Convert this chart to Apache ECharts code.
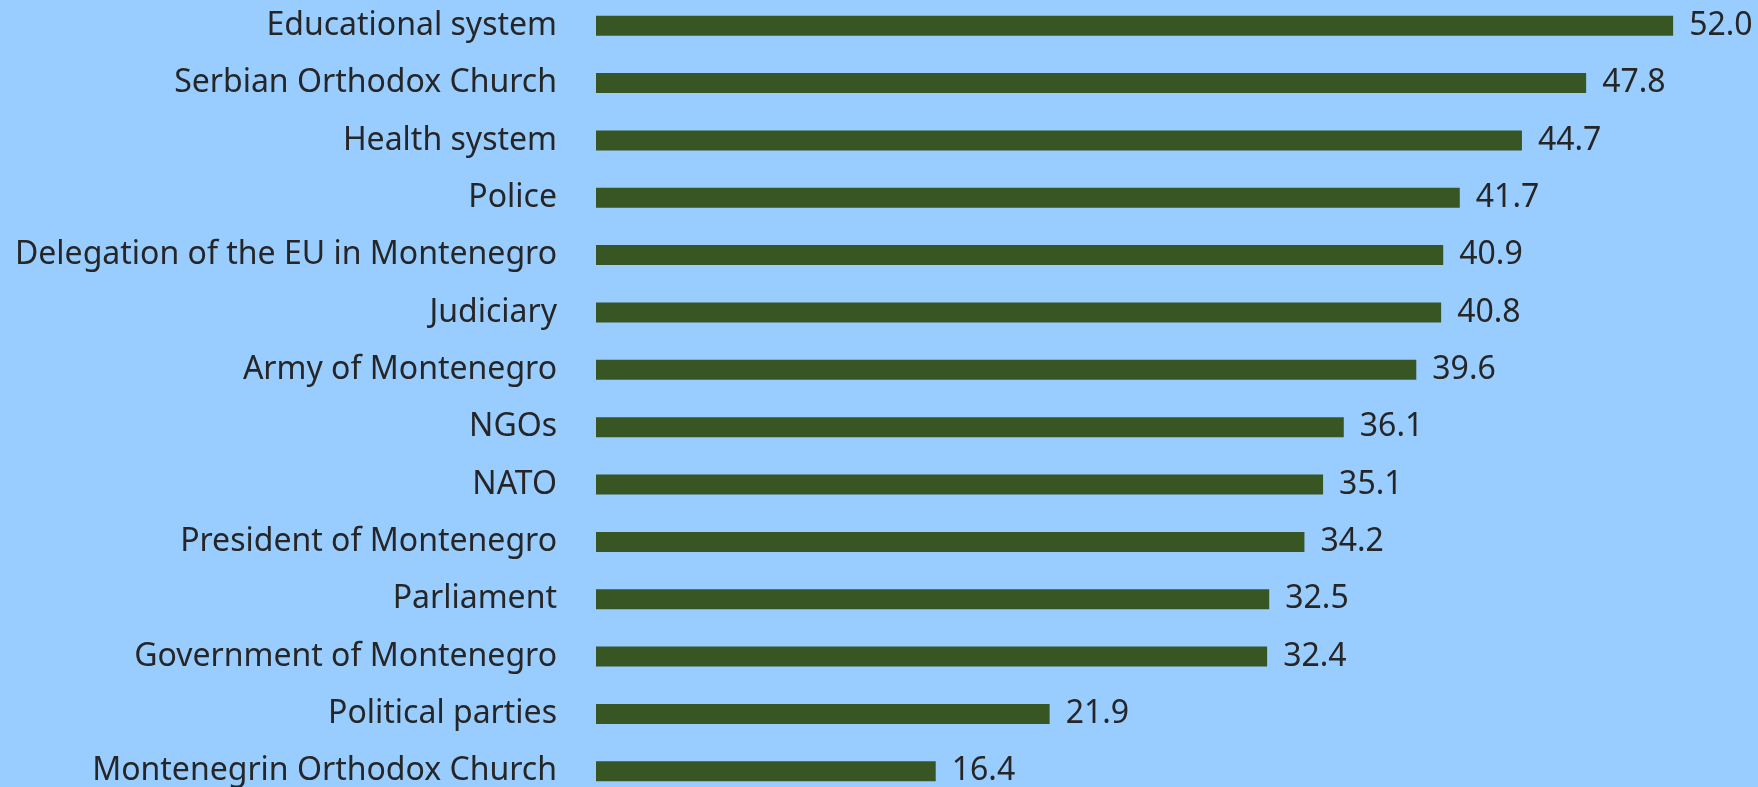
<!DOCTYPE html>
<html>
<head>
    <meta charset="utf-8" />
    <script src="https://cdn.jsdelivr.net/npm/echarts@6/dist/echarts.min.js"></script>
    <style>
        html, body { margin: 0; padding: 0; background: #99ccff; }
        #main { width: 1758px; height: 787px; }
    </style>
</head>
<body>
    <div id="main"></div>
    <script>
        // institutions, top to bottom
        var categories = [
            'Educational system', 'Serbian Orthodox Church', 'Health system', 'Police',
            'Delegation of the EU in Montenegro', 'Judiciary', 'Army of Montenegro', 'NGOs',
            'NATO', 'President of Montenegro', 'Parliament', 'Government of Montenegro',
            'Political parties', 'Montenegrin Orthodox Church'
        ]
        var values = [52.0, 47.8, 44.7, 41.7, 40.9, 40.8, 39.6, 36.1, 35.1, 34.2, 32.5, 32.4, 21.9, 16.4]

        var textFont = 'Noto Sans'

        var option = {
            backgroundColor: '#99ccff',
            animation: false,
            grid: {
                left: 596,
                top: -3,
                width: 1160,
                height: 803,
                outerBoundsMode: 'none',
                containLabel: false
            },
            xAxis: {
                type: 'value',
                min: 0,
                max: 56,
                show: false
            },
            yAxis: {
                type: 'category',
                inverse: true,
                data: categories,
                axisLine: { show: false },
                axisTick: { show: false },
                axisLabel: {
                    margin: 39,
                    color: '#262626',
                    fontFamily: textFont,
                    fontSize: 32
                }
            },
            series: [{
                type: 'bar',
                data: values,
                barWidth: 20,
                itemStyle: { color: '#375623' },
                label: {
                    show: true,
                    position: 'right',
                    distance: 16,
                    color: '#262626',
                    fontFamily: textFont,
                    fontSize: 32,
                    formatter: function (p) { return p.value.toFixed(1) }
                }
            }]
        }

        var chart = echarts.init(document.getElementById('main'))
        chart.setOption(option)
        window.addEventListener('resize', function () { chart.resize() })
    </script>
</body>
</html>
